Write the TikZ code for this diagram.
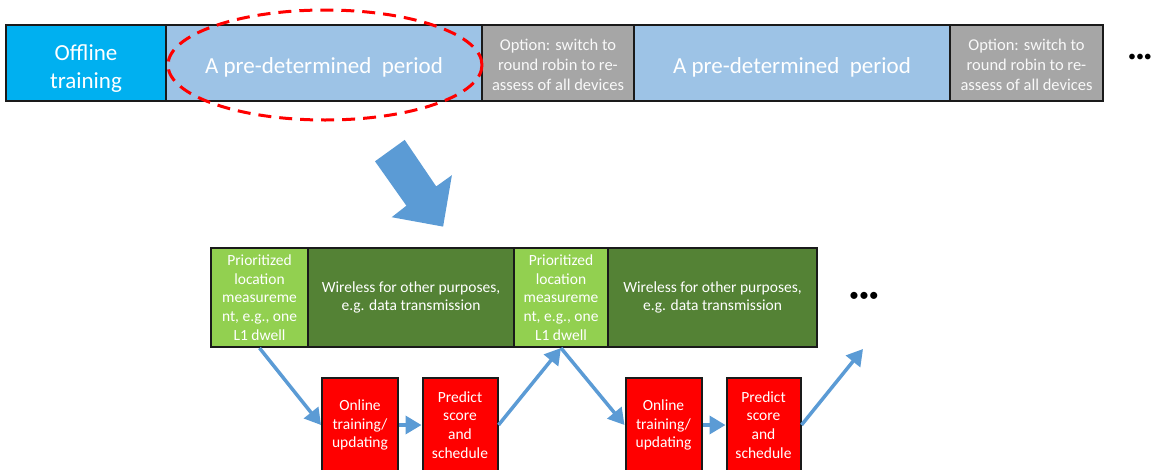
\documentclass[tikz,border=0pt]{standalone}
\usepackage{fontspec}
\setmainfont{Carlito}
\usetikzlibrary{arrows.meta,shapes.geometric}
\definecolor{offblue}{HTML}{00B0F0}
\definecolor{perblue}{HTML}{9DC3E6}
\definecolor{optgray}{HTML}{A6A6A6}
\definecolor{lgreen}{HTML}{92D050}
\definecolor{dgreen}{HTML}{548235}
\definecolor{arrblue}{HTML}{5B9BD5}
\definecolor{edge}{HTML}{1A1A1A}
\newcommand{\lift}[1]{\rule{0pt}{#1}}
\tikzset{
  topbox/.style={draw=edge, line width=2.4pt, inner sep=0pt, minimum height=76pt, text=white, align=center, font=\fontsize{23}{28}\selectfont},
  optbox/.style={topbox, fill=optgray, text=white!95!gray, font=\fontsize{16.5}{20}\selectfont},
  botbox/.style={draw=edge, line width=2pt, inner sep=0pt, minimum height=99pt, text=white, align=center, font=\fontsize{15.5}{18.8}\selectfont},
  redbox/.style={draw=edge, line width=2pt, fill=red, inner sep=0pt, minimum height=94pt, text=white, align=center, font=\fontsize{15.5}{18.7}\selectfont},
  flow/.style={draw=arrblue, line width=3.5pt, -{Triangle[length=16pt,width=18pt]}},
  dots/.style={font=\fontsize{20}{20}\selectfont, text=black, inner sep=0pt}
}
\begin{document}
\begin{tikzpicture}[x=1pt,y=-1pt]
\useasboundingbox (0,0) rectangle (1157,469);
% top bar
\node[topbox, fill=offblue, minimum width=160pt] (off) at (86,63) {\lift{26pt}Offline\\training};
\node[topbox, fill=perblue, minimum width=316pt] (p1) at (324,63) {\lift{25pt}A pre-determined\ \ period};
\node[optbox, minimum width=152pt] (o1) at (558,63) {\lift{16pt}Option: switch to\\round robin to re-\\assess of all devices};
\node[topbox, fill=perblue, minimum width=316pt] (p2) at (792,63) {\lift{25pt}A pre-determined\ \ period};
\node[optbox, minimum width=153pt] (o2) at (1026.5,63) {\lift{16pt}Option: switch to\\round robin to re-\\assess of all devices};
\node[dots, font=\fontsize{16}{16}\selectfont] (d1) at (1140,58) {•••};
% highlight ellipse
\node[ellipse, draw=red, line width=3pt, dash pattern=on 13pt off 8pt, minimum width=314pt, minimum height=110pt, inner sep=0pt] (sel) at (325,65) {};
% big arrow
\fill[arrblue] (404.7,139.9) -- (375,161.3) -- (406.4,205.7) -- (391.7,217.2) -- (443.1,226.6) -- (451.9,175.2) -- (436.2,186.4) -- cycle;
% bottom bar
\node[botbox, fill=lgreen, minimum width=97pt] (m1) at (259.5,297.5) {Prioritized\\location\\measureme\\nt, e.g., one\\L1 dwell};
\node[botbox, fill=dgreen, minimum width=206pt] (w1) at (411,297.5) {Wireless for other purposes,\\e.g. data transmission};
\node[botbox, fill=lgreen, minimum width=94pt] (m2) at (561,297.5) {Prioritized\\location\\measureme\\nt, e.g., one\\L1 dwell};
\node[botbox, fill=dgreen, minimum width=209pt] (w2) at (712.5,297.5) {Wireless for other purposes,\\e.g. data transmission};
\node[dots] (d2) at (864,297) {•••};
% red boxes
\node[redbox, minimum width=76pt] (on1) at (360,425) {Online\\training/\\updating};
\node[redbox, minimum width=75pt] (pr1) at (460,425) {Predict\\score\\and\\schedule};
\node[redbox, minimum width=76pt] (on2) at (663.5,425) {Online\\training/\\updating};
\node[redbox, minimum width=74pt] (pr2) at (763.5,425) {Predict\\score\\and\\schedule};
\coordinate (next) at (863,349);
% connectors
\draw[flow] (m1.south) -- (on1.west);
\draw[flow] (on1.east) -- (pr1.west);
\draw[flow] (pr1.east) -- (m2.south);
\draw[flow] (m2.south) -- (on2.west);
\draw[flow] (on2.east) -- (pr2.west);
\draw[flow] (pr2.east) -- (next);
\end{tikzpicture}
\end{document}
